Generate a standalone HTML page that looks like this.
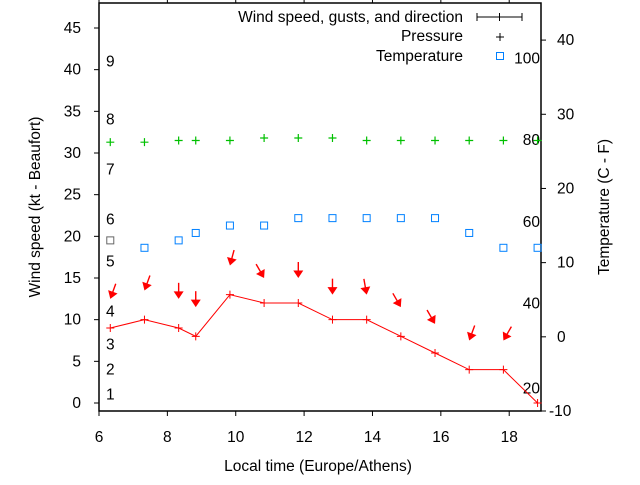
<!DOCTYPE html>
<html><head><meta charset="utf-8"><style>
body{margin:0;background:#fff}
svg{font-family:"Liberation Sans",sans-serif;font-size:15.5px}
</style></head><body>
<svg id="c" width="640" height="480" viewBox="0 0 640 480" xmlns="http://www.w3.org/2000/svg"></svg>
<script>
const times=[6.33,7.33,8.33,8.83,9.83,10.83,11.83,12.83,13.83,14.83,15.83,16.83,17.83,18.83];
const wind=[9,10,9,8,13,12,12,10,10,8,6,4,4,0];
const gusts=[12.5,13.5,12.5,11.5,16.5,15,15,13,13,11.5,9.5,7.5,7.5];
const windDir=[20,20,0,0,15,330,0,0,350,330,330,20,30];
const pressure=[31.3,31.3,31.5,31.5,31.5,31.8,31.8,31.8,31.5,31.5,31.5,31.5,31.5,31.5];
const temperature=[13,12,13,14,15,15,16,16,16,16,16,14,12,12];
const xTicks=[6,8,10,12,14,16,18];
const yTicks=[0,5,10,15,20,25,30,35,40,45];
const y2Ticks=[-10,0,10,20,30,40];
const beaufort=[["1",1],["2",4],["3",7],["4",11],["5",17],["6",22],["7",28],["8",34],["9",41]];
const fahr=[["20",-7],["40",4.5],["60",15.5],["80",26.5],["100",37.5]];

const L=99,R=541,T=3,B=411;
const X=v=>L+(v-6)*(R-L)/(18.93-6);
const Y=v=>B-(v+0.96)*(B-T)/(48+0.96);
const Y2=v=>B-(v+10)*(B-T)/55;
const svg=document.getElementById('c');
const NS='http://www.w3.org/2000/svg';
function mk(tag,attrs,parent){const e=document.createElementNS(NS,tag);for(const k in attrs)e.setAttribute(k,attrs[k]);(parent||svg).appendChild(e);return e;}
function txt(s,x,y,anchor,name,extra){const e=mk('text',Object.assign({x:x,y:y,'text-anchor':anchor||'start',fill:'#000'},extra||{}));e.textContent=s;


return e;}

const fr=mk('rect',{x:L,y:T,width:R-L,height:B-T,fill:'none',stroke:'#000','stroke-width':1.5});



xTicks.forEach(t=>{
 const g=mk('line',{x1:X(t),x2:X(t),y1:B,y2:B+5,stroke:'#000'});
 
 
 const g2=mk('line',{x1:X(t),x2:X(t),y1:T,y2:T-5,stroke:'#000'});
 
 
 txt(String(t),X(t),442,'middle','x-tick-label');
});
yTicks.forEach(t=>{
 const g=mk('line',{x1:L-5,x2:L,y1:Y(t),y2:Y(t),stroke:'#000'});
 
 
 txt(String(t),81,Y(t)+5,'end','y-tick-label');
});
y2Ticks.forEach(t=>{
 const g=mk('line',{x1:R,x2:R+5,y1:Y2(t),y2:Y2(t),stroke:'#000'});
 
 
 txt(String(t),t<0?549:557,Y2(t)+5,'start','y2-tick-label');
});
beaufort.forEach(b=>txt(b[0],106,Y(b[1])+5,'start','beaufort-label'));
fahr.forEach(f=>txt(f[0],540,Y2(f[1])+5,'end','fahrenheit-label'));

txt('Local time (Europe/Athens)',318,471,'middle','x-axis-title');
txt('Wind speed (kt - Beaufort)',0,0,'middle','y-axis-title',{transform:'translate(40,207) rotate(-90)'});
txt('Temperature (C - F)',0,0,'middle','y2-axis-title',{transform:'translate(609,207) rotate(-90)'});

pressure.forEach((p,i)=>{
 const g=mk('path',{d:`M${X(times[i])-4},${Y(p)}h8M${X(times[i])},${Y(p)-4}v8`,stroke:'#00c000','stroke-width':1.2});
 
 
});
temperature.forEach((t,i)=>{
 const g=mk('rect',{x:X(times[i])-3.5,y:Y2(t)-3.5,width:7,height:7,fill:'none',stroke:i==0?'#666':'#0080ff','stroke-width':1});
 
 
});
const wl=mk('polyline',{points:wind.map((w,i)=>X(times[i])+','+Y(w)).join(' '),fill:'none',stroke:'#f00','stroke-width':1});


wind.forEach((w,i)=>{
 const g=mk('path',{d:`M${X(times[i])-4},${Y(w)}h8M${X(times[i])},${Y(w)-4}v8`,stroke:'#f00','stroke-width':1});
 
 
});
gusts.forEach((gv,i)=>{
 const tx=X(times[i]),ty=Y(gv);
 const g=mk('g',{transform:`translate(${tx},${ty}) rotate(${windDir[i]})`});
 
 
 mk('line',{x1:0,y1:-16,x2:0,y2:-3,stroke:'#f00','stroke-width':1.4},g);
 mk('path',{d:'M0,0L-5,-7.5L5,-7.5Z',fill:'#f00'},g);
});

txt('Wind speed, gusts, and direction',463,22,'end','legend-wind-label');
const lg=mk('path',{d:'M477,17h45M477,13v8M522,13v8M499.5,13v8',stroke:'#000','stroke-width':1});


txt('Pressure',463,41,'end','legend-pressure-label');
const lp=mk('path',{d:'M496,37h8M500,33v8',stroke:'#000','stroke-width':1});


txt('Temperature',463,61,'end','legend-temperature-label');
const lt=mk('rect',{x:496.5,y:52.5,width:7,height:7,fill:'none',stroke:'#0080ff'});


</script>
</body></html>
